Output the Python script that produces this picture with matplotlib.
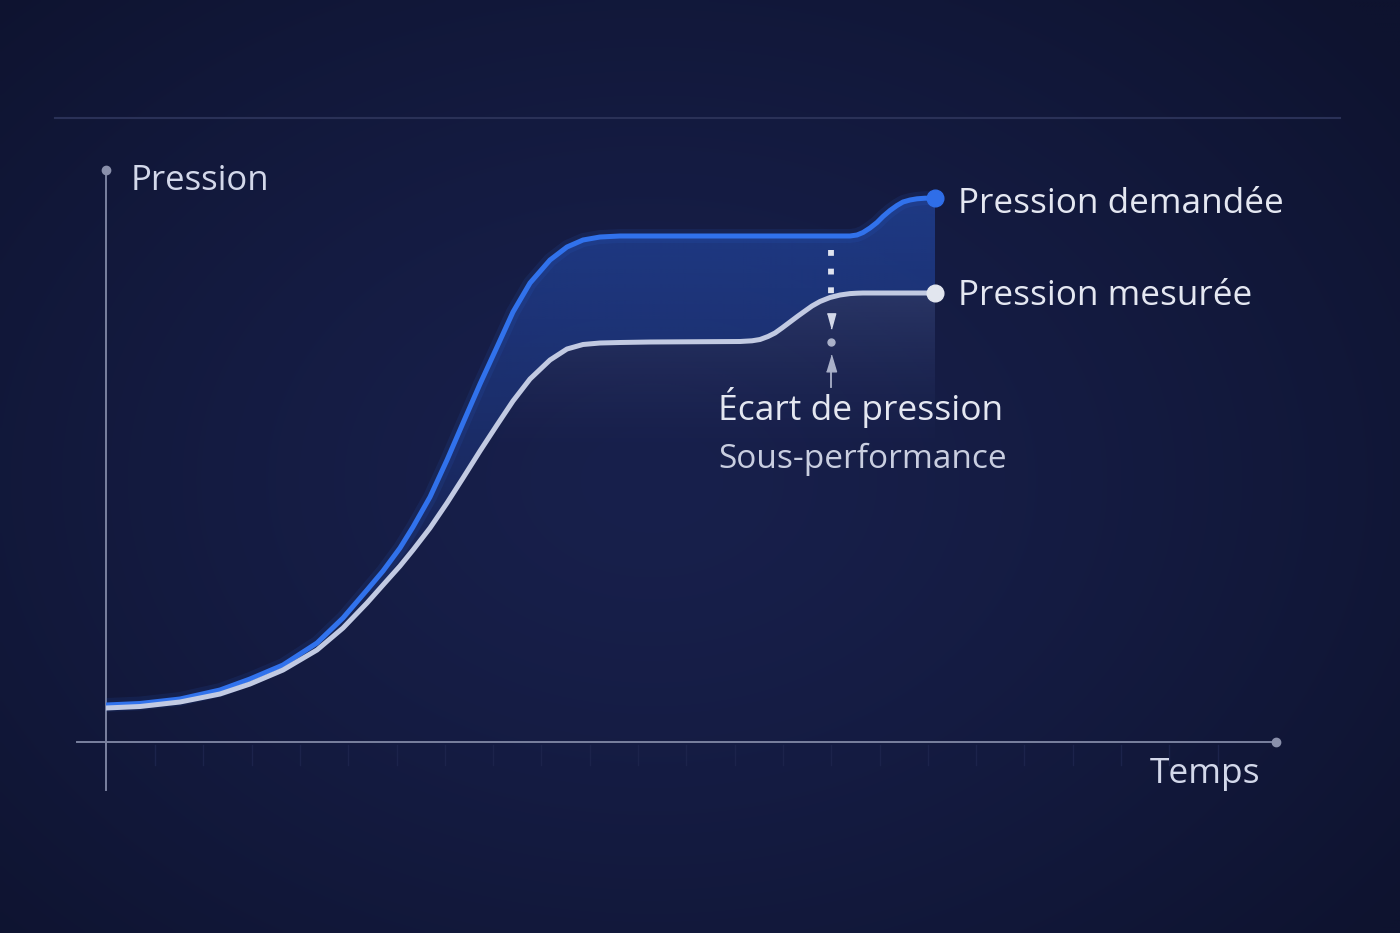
import numpy as np
import matplotlib.pyplot as plt
from matplotlib.colors import to_rgb

plt.rcParams['font.family'] = ['Open Sans', 'DejaVu Sans']

# temps et pressions (unites arbitraires)
temps = [0, 3.4, 7.4, 11.4, 14.4, 17.7, 21.1, 23.7, 26.1, 27.7,
         29.4, 30.7, 32.4, 34.1, 35.7, 37.4, 39.1, 40.7, 42.4, 44.4,
         46.1, 47.7, 49.4, 51.4, 54.4, 63.4, 64.6, 65.4, 66.2, 66.9,
         67.6, 68.4, 69.2, 69.9, 70.6, 71.4, 72.4, 73.4, 74.4, 75.1,
         75.7, 76.4, 77.1, 77.7, 78.4, 79.1, 79.7, 80.4, 81.1, 81.9, 82.9]
demandee = [3.7, 3.85, 4.3, 5.2, 6.3, 7.7, 9.9, 12.4, 15.2, 17.1,
            19.4, 21.5, 24.5, 28.2, 31.9, 35.8, 39.5, 43.0, 45.9, 48.2,
            49.5, 50.2, 50.5, 50.6, 50.6, 50.6, 50.6, 50.6, 50.6, 50.6,
            50.6, 50.6, 50.6, 50.6, 50.6, 50.6, 50.6, 50.6, 50.6, 50.7,
            50.95, 51.4, 51.95, 52.55, 53.15, 53.65, 54.0, 54.2, 54.32, 54.38, 54.4]
mesuree = [3.4, 3.55, 4.0, 4.8, 5.8, 7.2, 9.2, 11.4, 13.9, 15.7,
           17.6, 19.2, 21.4, 23.9, 26.4, 29.1, 31.7, 34.1, 36.3, 38.2,
           39.3, 39.75, 39.9, 39.95, 40.0, 40.05, 40.12, 40.25, 40.55, 40.9,
           41.4, 42.0, 42.6, 43.1, 43.6, 44.05, 44.45, 44.7, 44.84, 44.88,
           44.9, 44.9, 44.9, 44.9, 44.9, 44.9, 44.9, 44.9, 44.9, 44.9, 44.9]
t_ecart = 72.5
niveau_initial = 40.0

W, H = 1400, 933
fig = plt.figure(figsize=(14, 9.33), dpi=100)
fig.patch.set_facecolor('#121938')

# fond
bg = fig.add_axes([0, 0, 1, 1])
bg.set_xlim(0, W)
bg.set_ylim(H, 0)
bg.axis('off')
yy, xx = np.mgrid[0:H:4, 0:W:4]
d = np.sqrt(((xx - 650) / 950.0) ** 2 + ((yy - 480) / 700.0) ** 2)
d = np.clip(d, 0, 1) ** 1.3
c0 = np.array(to_rgb('#18204c'))
c1 = np.array(to_rgb('#0e132f'))
bg.imshow(c0 + (c1 - c0) * d[..., None], extent=[0, W, H, 0], aspect='auto',
          interpolation='bilinear')
bg.plot([55, 1340], [118, 118], color='#2a3157', lw=1.5)

# graphique
ax = fig.add_axes([106 / W, (H - 742) / H, 1170 / W, 572 / H])
ax.set_xlim(0, 117)
ax.set_ylim(0, 57.2)
ax.patch.set_alpha(0)
ax.axis('off')

t = np.array(temps)
dem = np.array(demandee)
mes = np.array(mesuree)

# ecart entre les courbes (degrade)
poly = ax.fill_between(t, mes, dem, facecolor='none', edgecolor='none')
rgba = np.zeros((200, 2, 4))
rgba[..., :3] = to_rgb('#2a5cd0')
rgba[..., 3] = 0.08 + 0.40 * np.linspace(1, 0, 200)[:, None]
im = ax.imshow(rgba, extent=[0, t[-1], 15, 55], aspect='auto', origin='upper',
               interpolation='bilinear', zorder=1)
im.set_clip_path(poly.get_paths()[0], transform=ax.transData)

# halo sous la courbe mesuree
poly2 = ax.fill_between(t, 20, mes, where=t >= 38, facecolor='none', edgecolor='none')
rgba2 = np.zeros((200, 2, 4))
rgba2[..., :3] = to_rgb('#5a72b8')
rgba2[..., 3] = 0.30 * np.linspace(1, 0, 200)[:, None] ** 1.5
im2 = ax.imshow(rgba2, extent=[0, t[-1], 28, 45], aspect='auto', origin='upper',
                interpolation='bilinear', zorder=1)
im2.set_clip_path(poly2.get_paths()[0], transform=ax.transData)

# axes
ax.plot([0, 0], [-4.8, 57.2], color='#7a819f', lw=1.4, clip_on=False, zorder=2)
ax.plot([0], [57.2], 'o', color='#8a90ab', ms=6, clip_on=False, zorder=2)
ax.plot([-2.9, 117], [0, 0], color='#7a819f', lw=1.4, clip_on=False, zorder=2)
ax.plot([117], [0], 'o', color='#8a90ab', ms=6, clip_on=False, zorder=2)
for xt in np.arange(4.9, 115, 4.83):
    ax.plot([xt, xt], [-0.3, -2.3], color='#1c234b', lw=1, clip_on=False, zorder=1)

# courbe demandee
ax.plot(t, dem, color='#2f6ee8', lw=10, alpha=0.10, solid_capstyle='round', zorder=3)
ax.plot(t, dem, color='#3172ec', lw=3.6, solid_capstyle='round',
        solid_joinstyle='round', zorder=4)

# courbe mesuree
ax.plot(t, mes, color='#c2cae2', lw=3.6, solid_capstyle='round',
        solid_joinstyle='round', zorder=5)

ax.plot([t[-1]], [dem[-1]], 'o', color='#2f6ee8', ms=12, zorder=6)
ax.plot([t[-1]], [mes[-1]], 'o', color='#e2e6ef', ms=12, zorder=6)

# annotation de l'ecart
ax.plot([t_ecart, t_ecart], [49.2, 44.6], color='#dfe3ef', lw=4.2,
        linestyle=(0, (1.0, 2.2)), zorder=5)
fleche_bas = [(-0.55, 1), (0.55, 1), (0, -1)]
fleche_haut = [(-0.6, -1), (0.6, -1), (0, 1)]
ax.plot([t_ecart], [42.1], marker=fleche_bas, color='#d3d8e8', ms=11, zorder=5)
ax.plot([t_ecart], [niveau_initial], 'o', color='#aab1c9', ms=5, zorder=5)
ax.plot([t_ecart], [37.9], marker=fleche_haut, color='#aab1c9', ms=12, zorder=5)
ax.plot([t_ecart, t_ecart], [37.2, 35.5], color='#aab1c9', lw=1.3, zorder=5)

# textes
def txt(px, py, s, size, color):
    fig.text(px / W, 1 - py / H, s, fontsize=size, color=color, va='baseline', ha='left')

txt(131, 190, 'Pression', 25, '#d3d8ea')
txt(958, 213, 'Pression demandée', 25.3, '#e4e7f1')
txt(958, 305, 'Pression mesurée', 25.3, '#e4e7f1')
txt(718, 420, 'Écart de pression', 25.5, '#e4e7f1')
txt(718, 468, 'Sous-performance', 24, '#c9cee0')
txt(1150, 783, 'Temps', 25.5, '#d3d8ea')

fig.savefig('out.png', dpi=100, facecolor=fig.get_facecolor())
